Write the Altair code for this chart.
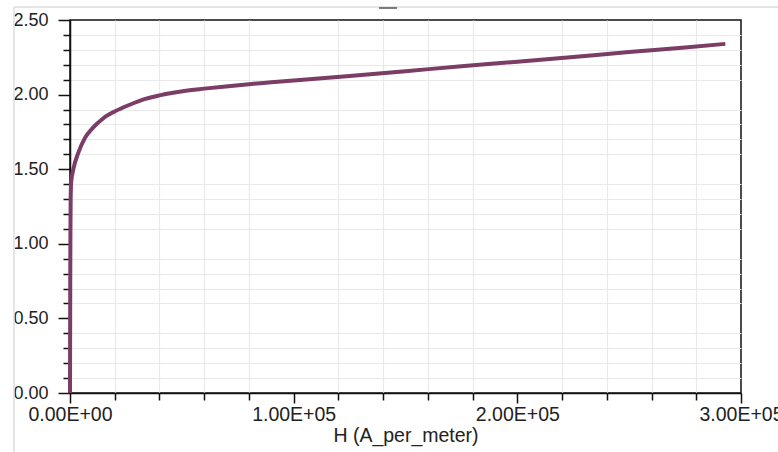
import altair as alt
import pandas as pd

# B-H curve
H_values = [0, 60, 120, 200, 300, 500, 1500, 3700, 6700, 10400, 14800, 20000,
            26700, 34100, 40000, 50400, 60000, 69600, 80000, 90000, 100000, 125000,
            150000, 175000, 200000, 225000, 250000, 275000, 293000]
B_values = [0.0, 0.40, 0.80, 1.10, 1.30, 1.41, 1.50, 1.61, 1.71, 1.78, 1.84, 1.887,
            1.932, 1.973, 1.995, 2.023, 2.040, 2.055, 2.070, 2.082, 2.094, 2.125,
            2.157, 2.19, 2.22, 2.252, 2.285, 2.315, 2.34]

x_major = [0, 100000, 200000, 300000]
x_minor = [v for v in range(0, 300001, 20000) if v % 100000 != 0]
y_major = [0.0, 0.5, 1.0, 1.5, 2.0, 2.5]
y_minor = [round(i * 0.1, 1) for i in range(26) if i % 5 != 0]

x_title = "H (A_per_meter)"

df = pd.DataFrame({"H": H_values, "B": B_values})

FONT = "Liberation Sans, Arial, sans-serif"
LINE_COLOR = "#7b3c66"

xscale = alt.Scale(domain=[0, 300000], nice=False, zero=False)
yscale = alt.Scale(domain=[0, 2.5], nice=False, zero=False)

label_expr = ("datum.value == 0 ? '0.00E+00' : "
              "format(datum.value / pow(10, floor(log(datum.value) / LN10)), '.2f') + 'E+' + "
              "(floor(log(datum.value) / LN10) < 10 ? '0' : '') + floor(log(datum.value) / LN10)")

main = alt.Chart(df).mark_line(color=LINE_COLOR, strokeWidth=4, strokeCap="butt",
                               interpolate="monotone").encode(
    x=alt.X("H:Q", scale=xscale, axis=alt.Axis(
        values=x_major, labelExpr=label_expr, orient="bottom",
        labelFont=FONT, labelFontSize=19.5, labelColor="#222",
        tickSize=10, tickColor="#111", domainColor="#111", domainWidth=1.5,
        tickWidth=1.5, labelPadding=2, gridColor="#d2d2d2", gridWidth=1.2,
        title=x_title, titleFont=FONT, titleFontSize=19.5, titleFontWeight="normal",
        titleColor="#222", titlePadding=3, labelFlush=False, labelOverlap=False)),
    y=alt.Y("B:Q", scale=yscale, axis=alt.Axis(
        values=y_major, format=".2f", orient="left",
        labelFont=FONT, labelFontSize=18, labelColor="#222",
        tickSize=12, tickColor="#111", domainColor="#111", domainWidth=1.5,
        tickWidth=1.5, labelPadding=10, gridColor="#d2d2d2", gridWidth=1.2,
        title="", labelFlush=False, labelOverlap=False)),
)

minor = alt.Chart(df).mark_line(opacity=0).encode(
    x=alt.X("H:Q", scale=xscale, axis=alt.Axis(
        values=x_minor, labels=False, orient="bottom", domain=False,
        tickSize=7, tickColor="#111", tickWidth=1.5,
        gridColor="#e9e9e9", gridWidth=1.2, title="")),
    y=alt.Y("B:Q", scale=yscale, axis=alt.Axis(
        values=y_minor, labels=False, orient="left", domain=False,
        tickSize=7, tickColor="#111", tickWidth=1.5,
        gridColor="#e9e9e9", gridWidth=1.2, title="")),
)

one = pd.DataFrame({"a": [0]})
frame_left = alt.Chart(one).mark_rule(color="#dcdcdc", strokeWidth=1.5).encode(
    x=alt.value(-56), y=alt.value(-13), y2=alt.value(432))
frame_top = alt.Chart(one).mark_rule(color="#dcdcdc", strokeWidth=1.5).encode(
    x=alt.value(-56), x2=alt.value(708), y=alt.value(-13))
dash = alt.Chart(one).mark_rule(color="#555555", strokeWidth=1.5).encode(
    x=alt.value(309), x2=alt.value(327), y=alt.value(-12))

chart = alt.layer(minor, main, frame_left, frame_top, dash).resolve_axis(
    x="independent", y="independent"
).properties(
    width=671, height=373,
    autosize=alt.AutoSizeParams(type="none"),
    padding={"left": 70, "top": 20, "right": 37, "bottom": 59},
    background="white",
).configure_view(stroke="#111", strokeWidth=1.5)

chart.save("out.html", embed_options={"renderer": "svg", "actions": False})
